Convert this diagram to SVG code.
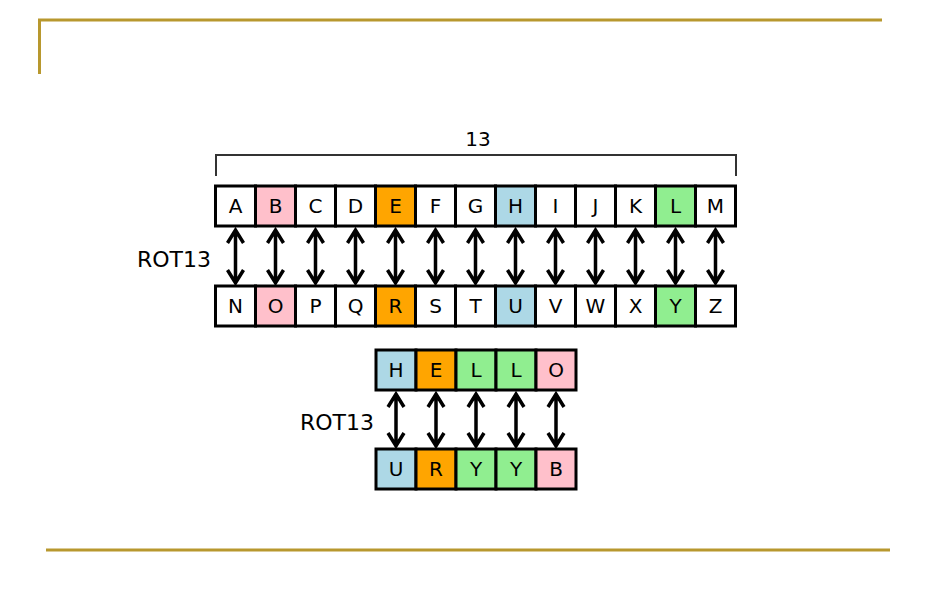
<svg xmlns="http://www.w3.org/2000/svg" width="936" height="612" viewBox="0 0 936 612">
<style>
.frame{stroke:#B8982E;stroke-width:3;fill:none}
.box{stroke:#000;stroke-width:3}
.w{fill:#fff}.p{fill:#FFC0CB}.o{fill:#FFA500}.b{fill:#ADD8E6}.g{fill:#90EE90}
.t{font-family:"DejaVu Sans",Verdana,sans-serif;font-size:20px;fill:#000;text-anchor:middle}
.lbl{font-family:"DejaVu Sans",Verdana,sans-serif;font-size:22px;fill:#000}
.arr{stroke:#000;stroke-width:3.5;fill:none;stroke-linejoin:miter}
.br{stroke:#333;stroke-width:2;fill:none}
</style>
<rect width="936" height="612" fill="#fff"/>
<g id="frame">
<path class="frame" d="M38,20 H882 M39.5,20 V74"/>
<path class="frame" d="M46,550 H890"/>
</g>
<g id="bracket">
<path class="br" d="M216,176 V155 H736 V176"/>
<text class="lbl" x="478" y="146" text-anchor="middle" style="font-size:20px">13</text>
</g>
<g id="label-rot13-top"><text class="lbl" x="137" y="267">ROT13</text></g>
<g id="label-rot13-bottom"><text class="lbl" x="300" y="430">ROT13</text></g>
<g id="top-row">
<g id="A"><rect class="box w" x="215.5" y="186" width="40" height="40"/><text class="t" x="235.5" y="213">A</text></g>
<g id="B"><rect class="box p" x="255.5" y="186" width="40" height="40"/><text class="t" x="275.5" y="213">B</text></g>
<g id="C"><rect class="box w" x="295.5" y="186" width="40" height="40"/><text class="t" x="315.5" y="213">C</text></g>
<g id="D"><rect class="box w" x="335.5" y="186" width="40" height="40"/><text class="t" x="355.5" y="213">D</text></g>
<g id="E"><rect class="box o" x="375.5" y="186" width="40" height="40"/><text class="t" x="395.5" y="213">E</text></g>
<g id="F"><rect class="box w" x="415.5" y="186" width="40" height="40"/><text class="t" x="435.5" y="213">F</text></g>
<g id="G"><rect class="box w" x="455.5" y="186" width="40" height="40"/><text class="t" x="475.5" y="213">G</text></g>
<g id="H"><rect class="box b" x="495.5" y="186" width="40" height="40"/><text class="t" x="515.5" y="213">H</text></g>
<g id="I"><rect class="box w" x="535.5" y="186" width="40" height="40"/><text class="t" x="555.5" y="213">I</text></g>
<g id="J"><rect class="box w" x="575.5" y="186" width="40" height="40"/><text class="t" x="595.5" y="213">J</text></g>
<g id="K"><rect class="box w" x="615.5" y="186" width="40" height="40"/><text class="t" x="635.5" y="213">K</text></g>
<g id="L"><rect class="box g" x="655.5" y="186" width="40" height="40"/><text class="t" x="675.5" y="213">L</text></g>
<g id="M"><rect class="box w" x="695.5" y="186" width="40" height="40"/><text class="t" x="715.5" y="213">M</text></g>
</g>
<g id="bottom-row">
<g id="N"><rect class="box w" x="215.5" y="286" width="40" height="40"/><text class="t" x="235.5" y="313">N</text></g>
<g id="O"><rect class="box p" x="255.5" y="286" width="40" height="40"/><text class="t" x="275.5" y="313">O</text></g>
<g id="P"><rect class="box w" x="295.5" y="286" width="40" height="40"/><text class="t" x="315.5" y="313">P</text></g>
<g id="Q"><rect class="box w" x="335.5" y="286" width="40" height="40"/><text class="t" x="355.5" y="313">Q</text></g>
<g id="R"><rect class="box o" x="375.5" y="286" width="40" height="40"/><text class="t" x="395.5" y="313">R</text></g>
<g id="S"><rect class="box w" x="415.5" y="286" width="40" height="40"/><text class="t" x="435.5" y="313">S</text></g>
<g id="T"><rect class="box w" x="455.5" y="286" width="40" height="40"/><text class="t" x="475.5" y="313">T</text></g>
<g id="U"><rect class="box b" x="495.5" y="286" width="40" height="40"/><text class="t" x="515.5" y="313">U</text></g>
<g id="V"><rect class="box w" x="535.5" y="286" width="40" height="40"/><text class="t" x="555.5" y="313">V</text></g>
<g id="W"><rect class="box w" x="575.5" y="286" width="40" height="40"/><text class="t" x="595.5" y="313">W</text></g>
<g id="X"><rect class="box w" x="615.5" y="286" width="40" height="40"/><text class="t" x="635.5" y="313">X</text></g>
<g id="Y"><rect class="box g" x="655.5" y="286" width="40" height="40"/><text class="t" x="675.5" y="313">Y</text></g>
<g id="Z"><rect class="box w" x="695.5" y="286" width="40" height="40"/><text class="t" x="715.5" y="313">Z</text></g>
</g>
<g id="hello-row">
<g id="h1"><rect class="box b" x="376" y="350" width="40" height="40"/><text class="t" x="396" y="377">H</text></g>
<g id="h2"><rect class="box o" x="416" y="350" width="40" height="40"/><text class="t" x="436" y="377">E</text></g>
<g id="h3"><rect class="box g" x="456" y="350" width="40" height="40"/><text class="t" x="476" y="377">L</text></g>
<g id="h4"><rect class="box g" x="496" y="350" width="40" height="40"/><text class="t" x="516" y="377">L</text></g>
<g id="h5"><rect class="box p" x="536" y="350" width="40" height="40"/><text class="t" x="556" y="377">O</text></g>
</g>
<g id="uryyb-row">
<g id="u1"><rect class="box b" x="376" y="449" width="40" height="40"/><text class="t" x="396" y="476">U</text></g>
<g id="u2"><rect class="box o" x="416" y="449" width="40" height="40"/><text class="t" x="436" y="476">R</text></g>
<g id="u3"><rect class="box g" x="456" y="449" width="40" height="40"/><text class="t" x="476" y="476">Y</text></g>
<g id="u4"><rect class="box g" x="496" y="449" width="40" height="40"/><text class="t" x="516" y="476">Y</text></g>
<g id="u5"><rect class="box p" x="536" y="449" width="40" height="40"/><text class="t" x="556" y="476">B</text></g>
</g>
<defs>
<path id="a1" class="arr" d="M0,230 V283 M-8,243 L0,230 L8,243 M-8,270 L0,283 L8,270"/>
<path id="a2" class="arr" d="M0,394 V446 M-8,407 L0,394 L8,407 M-8,433 L0,446 L8,433"/>
</defs>
<g id="connectors">
<use href="#a1" x="235.5"/><use href="#a1" x="275.5"/><use href="#a1" x="315.5"/><use href="#a1" x="355.5"/>
<use href="#a1" x="395.5"/><use href="#a1" x="435.5"/><use href="#a1" x="475.5"/><use href="#a1" x="515.5"/>
<use href="#a1" x="555.5"/><use href="#a1" x="595.5"/><use href="#a1" x="635.5"/><use href="#a1" x="675.5"/>
<use href="#a1" x="715.5"/>
<use href="#a2" x="396"/><use href="#a2" x="436"/><use href="#a2" x="476"/><use href="#a2" x="516"/><use href="#a2" x="556"/>
</g>
</svg>
